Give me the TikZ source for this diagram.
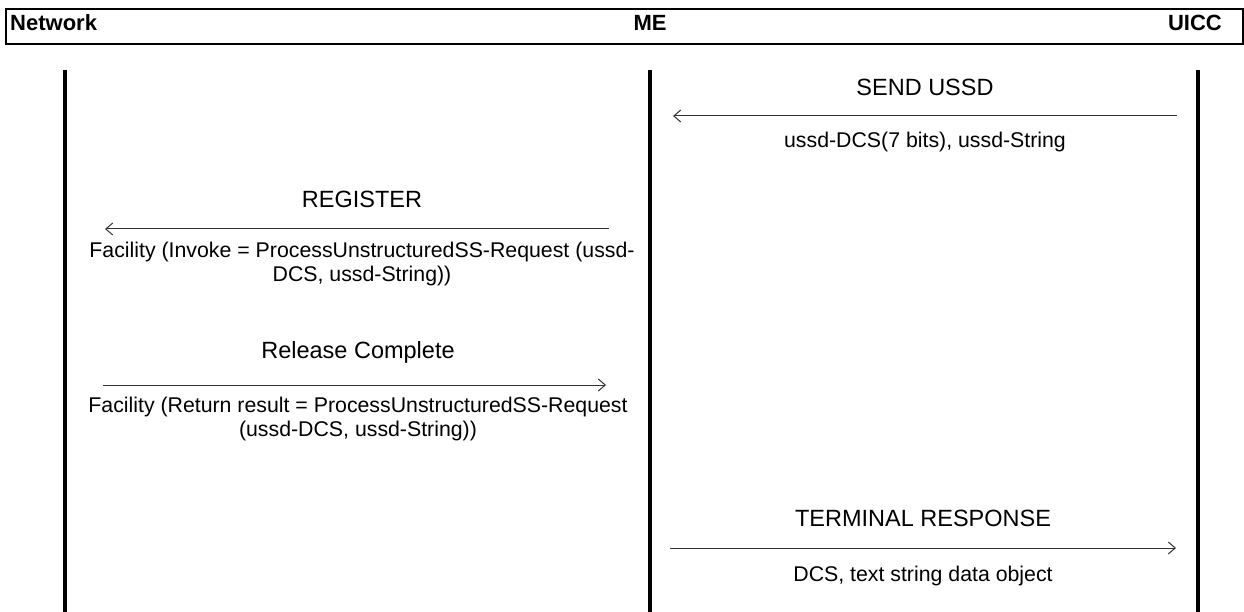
\documentclass[tikz,border=0pt]{standalone}
\usepackage{fontspec}
\setmainfont{Liberation Sans}
\usetikzlibrary{arrows.meta,calc}

\begin{document}
\begin{tikzpicture}[x=1pt,y=-1pt,
    hdr/.style={font=\bfseries\fontsize{22}{25}\selectfont,inner sep=0pt,anchor=base},
    msg/.style={font=\fontsize{23.5}{27}\selectfont,inner sep=0pt},
    note/.style={font=\fontsize{21.3}{24.6}\selectfont,align=center,inner sep=0pt},
    flow/.style={-{Straight Barb[length=7pt,width=12pt]},draw=black!80,line width=1pt}]
  \useasboundingbox (0,0) rectangle (1244,612);
  % header bar
  \draw[line width=2pt] (6,9) rectangle (1243,44);
  \node[hdr,anchor=base west] (net) at (10,31) {Network};
  \node[hdr] (me) at (650,31) {ME};
  \node[hdr,anchor=base east] (uicc) at (1222,31) {UICC};
  % lifelines
  \foreach \n/\x in {net/65,me/650,uicc/1198} {
    \coordinate (\n top) at (\x,70);
    \coordinate (\n bot) at (\x,612);
    \draw[line width=3.5pt] (\n top) -- (\n bot);
  }
  % SEND USSD
  \coordinate (sendR) at (1177,116);
  \coordinate (sendL) at (673,116);
  \draw[flow] (sendR) -- (sendL);
  \node[msg] (send) at (925,87) {SEND USSD};
  \node[note] (sendP) at (925,142) {ussd-DCS(7 bits), ussd-String};
  % REGISTER
  \coordinate (regR) at (609,229);
  \coordinate (regL) at (105,229);
  \draw[flow] (regR) -- (regL);
  \node[msg] (reg) at (362,199) {REGISTER};
  \node[note] (regP) at (362,264) {Facility (Invoke = ProcessUnstructuredSS-Request (ussd-\\DCS, ussd-String))};
  % Release Complete
  \coordinate (relL) at (103,385);
  \coordinate (relR) at (606,385);
  \draw[flow] (relL) -- (relR);
  \node[msg] (rel) at (358,352) {Release Complete};
  \node[note] (relP) at (358,419) {Facility (Return result = ProcessUnstructuredSS-Request\\(ussd-DCS, ussd-String))};
  % TERMINAL RESPONSE
  \coordinate (trL) at (670,548);
  \coordinate (trR) at (1176,548);
  \draw[flow] (trL) -- (trR);
  \node[msg] (tr) at (923,518) {TERMINAL RESPONSE};
  \node[note] (trP) at (923,576) {DCS, text string data object};
\end{tikzpicture}
\end{document}
